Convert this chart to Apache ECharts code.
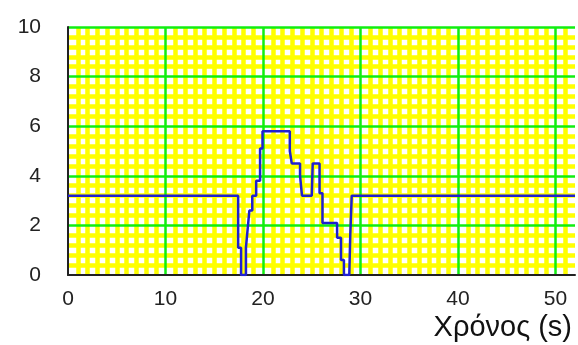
<!DOCTYPE html>
<html><head><meta charset="utf-8">
<script src="https://cdn.jsdelivr.net/npm/echarts@6/dist/echarts.min.js"></script>
<style>html,body{margin:0;padding:0;background:#fff}#c{width:578px;height:345px}</style>
</head><body><div id="c"></div>
<script>
// Step trace: time (s) and value
const timeS = [0, 17.45, 17.45, 17.75, 17.75, 18.25, 18.25, 18.6, 18.9, 18.9, 19.3, 19.3, 19.7, 19.7, 19.95, 19.95, 22.75, 22.75, 22.95, 22.95, 23.8, 23.8, 24.0, 24.0, 25.0, 25.1, 25.8, 25.8, 26.1, 26.1, 27.6, 27.6, 28.0, 28.0, 28.3, 28.3, 28.85, 28.95, 29.1, 29.1, 52];
const value = [3.2, 3.2, 1.1, 1.1, 0, 0, 1.1, 2.6, 2.6, 3.2, 3.2, 3.8, 3.8, 5.1, 5.1, 5.8, 5.8, 5.0, 5.0, 4.5, 4.5, 4.0, 4.0, 3.2, 3.2, 4.5, 4.5, 3.3, 3.3, 2.1, 2.1, 1.5, 1.5, 0.6, 0.6, 0, 0, 1.6, 1.6, 3.2, 3.2];
const xTicks = [0, 10, 20, 30, 40, 50];
const yTicks = [0, 2, 4, 6, 8, 10];
const xTitle = 'Χρόνος (s)';

const chart = echarts.init(document.getElementById('c'));
const font = 'Liberation Sans, Arial, sans-serif';
const minorStyle = {show: true, lineStyle: {color: '#ffff00', width: 4.5}};
chart.setOption({
  animation: false,
  backgroundColor: '#fff',
  grid: {left: 68, top: 27, right: 3, bottom: 70, containLabel: false},
  xAxis: [{
    type: 'value', min: 0, max: 52, interval: 10,
    axisLine: {show: false},
    axisTick: {show: false},
    axisLabel: {color: '#222', fontSize: 21, fontFamily: font, margin: 14,
      formatter: v => xTicks.includes(v) ? String(v) : ''},
    splitLine: {show: false},
    minorTick: {show: false, splitNumber: 10},
    minorSplitLine: minorStyle
  }, {
    type: 'value', min: 0, max: 52, interval: 10, position: 'bottom', z: 1,
    axisLine: {show: true, onZero: false, lineStyle: {color: '#222', width: 2}},
    axisTick: {show: false}, axisLabel: {show: false},
    splitLine: {show: true, showMinLine: false, showMaxLine: false, lineStyle: {color: '#11ee11', width: 2.5}}
  }],
  yAxis: [{
    type: 'value', min: 0, max: 10, interval: 2,
    axisLine: {show: false},
    axisTick: {show: false},
    axisLabel: {color: '#222', fontSize: 21, fontFamily: font, margin: 27,
      formatter: v => yTicks.includes(v) ? String(v) : ''},
    splitLine: {show: false},
    minorTick: {show: false, splitNumber: 5},
    minorSplitLine: minorStyle
  }, {
    type: 'value', min: 0, max: 10, interval: 2, position: 'left', z: 1,
    axisLine: {show: true, onZero: false, lineStyle: {color: '#222', width: 2}},
    axisTick: {show: false}, axisLabel: {show: false},
    splitLine: {show: true, showMinLine: false, lineStyle: {color: '#11ee11', width: 2.5}}
  }],
  graphic: [{
    type: 'text', right: 6, top: 313,
    style: {text: xTitle, fontSize: 29, fontFamily: font, fill: '#111'}
  }],
  series: [{
    type: 'line', showSymbol: false, symbol: 'none', xAxisIndex: 0, yAxisIndex: 0, z: 5,
    data: timeS.map((t, i) => [t, value[i]]),
    lineStyle: {color: '#2020d0', width: 2.5}
  }]
});
</script></body></html>
